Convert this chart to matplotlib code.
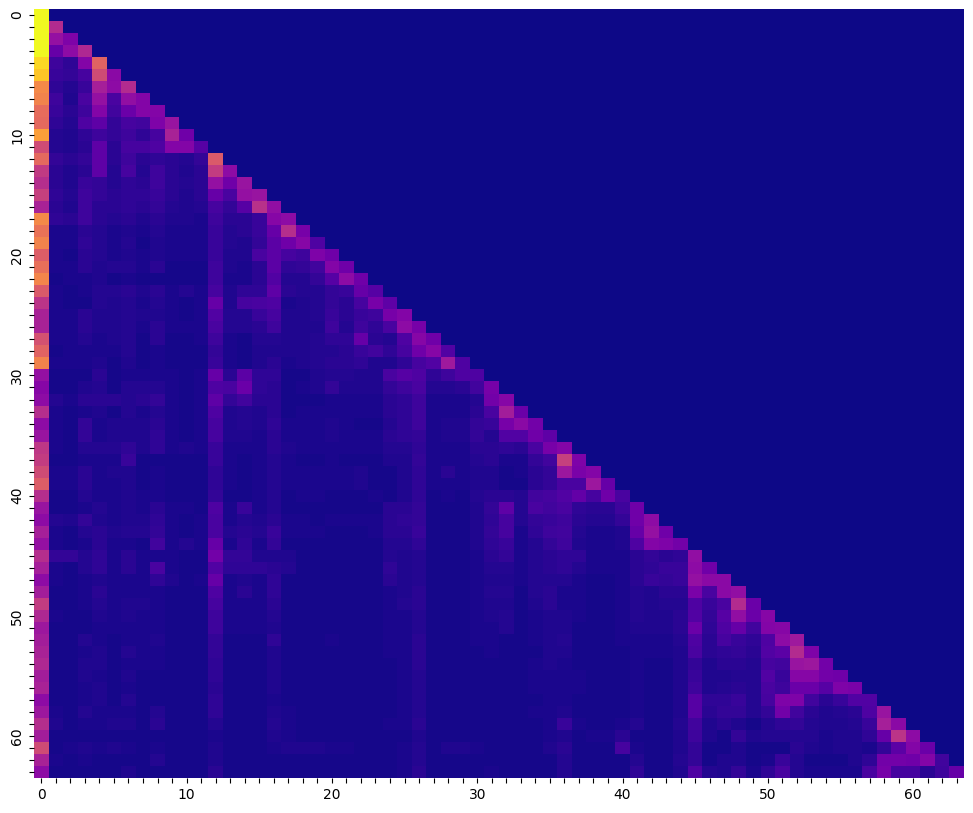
import numpy as np
import matplotlib
matplotlib.use("Agg")
import matplotlib.pyplot as plt
import seaborn as sns

# attention values, in percent of the top colour
row00 = [100]
row01 = [100, 41]
row02 = [100, 32, 26]
row03 = [100, 20, 30, 40]
row04 = [92, 10, 7, 27, 60]
row05 = [88, 9, 8, 12, 52, 29]
row06 = [72, 7, 5, 9, 37, 30, 41]
row07 = [70, 10, 4, 13, 32, 13, 31, 27]
row08 = [63, 9, 6, 10, 27, 11, 21, 27, 27]
row09 = [62, 7, 5, 14, 18, 8, 12, 11, 26, 33]
row10 = [78, 5, 4, 7, 10, 8, 10, 7, 12, 38, 22]
row11 = [52, 5, 4, 6, 18, 6, 12, 12, 14, 27, 27, 16]
row12 = [62, 8, 6, 8, 18, 6, 10, 6, 7, 6, 5, 8, 57]
row13 = [46, 6, 4, 6, 18, 5, 12, 5, 10, 6, 4, 6, 47, 30]
row14 = [42, 6, 4, 9, 8, 5, 7, 6, 10, 6, 5, 6, 32, 22, 33]
row15 = [48, 7, 5, 10, 8, 6, 7, 7, 9, 6, 4, 6, 20, 13, 32, 33]
row16 = [38, 6, 4, 10, 6, 6, 7, 6, 8, 5, 4, 5, 12, 8, 16, 43, 31]
row17 = [72, 7, 6, 10, 6, 5, 6, 4, 6, 4, 4, 3, 10, 6, 6, 9, 28, 30]
row18 = [65, 3, 3, 6, 5, 3, 4, 3, 5, 3, 3, 3, 9, 5, 6, 9, 20, 42, 24]
row19 = [70, 3, 3, 7, 5, 3, 5, 2, 4, 3, 3, 3, 9, 5, 4, 8, 17, 22, 28, 14]
row20 = [58, 3, 2, 6, 5, 3, 4, 3, 4, 3, 3, 3, 9, 4, 4, 13, 17, 12, 10, 26, 22]
row21 = [64, 3, 3, 6, 4, 5, 5, 3, 6, 2, 2, 2, 10, 4, 3, 6, 17, 7, 8, 11, 27, 22]
row22 = [71, 2, 3, 3, 4, 2, 3, 2, 2, 2, 2, 2, 10, 3, 3, 6, 15, 5, 5, 8, 16, 30, 22]
row23 = [57, 3, 2, 3, 5, 5, 6, 4, 6, 3, 5, 3, 12, 4, 7, 7, 18, 6, 5, 5, 8, 9, 20, 16]
row24 = [44, 3, 2, 2, 5, 4, 5, 3, 5, 3, 2, 3, 20, 4, 12, 13, 14, 3, 4, 5, 8, 6, 12, 24, 18]
row25 = [38, 3, 3, 6, 4, 4, 5, 4, 4, 3, 2, 3, 15, 5, 5, 9, 12, 4, 4, 5, 9, 6, 9, 10, 24, 27]
row26 = [38, 3, 3, 6, 4, 4, 5, 3, 6, 3, 3, 3, 13, 5, 5, 6, 10, 4, 4, 4, 10, 5, 10, 7, 13, 30, 24]
row27 = [54, 3, 3, 5, 3, 4, 5, 2, 6, 2, 2, 3, 10, 3, 2, 5, 5, 4, 4, 5, 7, 7, 20, 6, 5, 14, 28, 22]
row28 = [60, 2, 3, 3, 3, 3, 5, 2, 3, 2, 2, 2, 8, 3, 2, 4, 4, 4, 4, 5, 5, 6, 9, 11, 7, 12, 22, 28, 15]
row29 = [70, 3, 3, 3, 4, 2, 4, 2, 3, 2, 2, 1, 9, 3, 2, 4, 6, 3, 4, 5, 6, 6, 7, 4, 4, 7, 12, 15, 35, 14]
row30 = [32, 2, 1, 1, 6, 2, 3, 3, 3, 3, 1, 3, 20, 6, 17, 7, 7, 2, 2, 4, 5, 5, 4, 4, 13, 16, 14, 7, 10, 14, 14]
row31 = [28, 2, 1, 4, 5, 2, 5, 5, 5, 3, 1, 3, 14, 13, 21, 7, 6, 2, 3, 4, 8, 4, 4, 4, 8, 10, 13, 5, 5, 6, 11, 24]
row32 = [30, 5, 3, 6, 6, 6, 5, 6, 8, 3, 1, 3, 18, 8, 11, 6, 6, 2, 1, 2, 3, 3, 3, 3, 6, 7, 10, 3, 3, 3, 5, 23, 28]
row33 = [42, 3, 1, 3, 4, 2, 5, 3, 5, 3, 1, 3, 14, 4, 5, 4, 6, 2, 3, 3, 3, 3, 3, 3, 6, 7, 10, 3, 3, 3, 6, 13, 36, 21]
row34 = [30, 3, 2, 8, 3, 4, 4, 4, 6, 3, 2, 3, 12, 4, 5, 4, 7, 3, 3, 3, 4, 3, 2, 1, 5, 7, 10, 3, 4, 4, 8, 9, 24, 29, 23]
row35 = [33, 3, 2, 8, 3, 4, 4, 4, 7, 3, 2, 3, 12, 4, 4, 3, 6, 3, 3, 3, 4, 3, 3, 3, 6, 7, 8, 3, 4, 4, 8, 5, 15, 15, 22, 18]
row36 = [45, 3, 2, 5, 5, 5, 7, 4, 7, 3, 4, 3, 9, 3, 3, 3, 6, 4, 3, 3, 3, 3, 3, 3, 5, 5, 7, 3, 3, 3, 6, 6, 7, 6, 13, 24, 27]
row37 = [47, 2, 1, 3, 3, 3, 9, 2, 2, 2, 2, 2, 9, 3, 1, 3, 5, 3, 2, 2, 3, 2, 2, 1, 4, 4, 8, 3, 3, 3, 5, 6, 3, 3, 8, 11, 48, 26]
row38 = [52, 3, 3, 6, 3, 4, 4, 2, 3, 2, 2, 2, 7, 3, 2, 3, 5, 3, 3, 3, 3, 3, 4, 2, 2, 4, 7, 3, 6, 3, 4, 4, 2, 3, 6, 8, 34, 25, 27]
row39 = [58, 3, 3, 6, 3, 3, 4, 2, 3, 2, 2, 2, 7, 3, 1, 3, 5, 3, 3, 3, 3, 3, 4, 2, 2, 4, 7, 3, 3, 3, 4, 4, 2, 2, 6, 8, 13, 13, 34, 20]
row40 = [42, 2, 1, 5, 3, 3, 4, 3, 3, 2, 2, 2, 8, 1, 1, 3, 5, 1, 3, 3, 2, 2, 2, 3, 2, 4, 7, 1, 3, 2, 5, 6, 6, 5, 11, 12, 15, 19, 12, 22, 13]
row41 = [33, 2, 1, 3, 5, 3, 4, 3, 6, 3, 3, 2, 14, 3, 9, 3, 5, 2, 2, 1, 2, 2, 2, 2, 6, 6, 8, 1, 1, 2, 4, 8, 18, 5, 13, 11, 13, 7, 6, 6, 10, 22]
row42 = [30, 5, 4, 8, 4, 3, 4, 4, 7, 3, 2, 3, 13, 3, 5, 4, 6, 3, 3, 2, 3, 3, 3, 3, 6, 7, 8, 2, 2, 2, 4, 7, 12, 5, 8, 9, 10, 6, 5, 5, 8, 22, 30]
row43 = [37, 3, 2, 5, 6, 4, 5, 5, 8, 3, 2, 3, 13, 5, 6, 5, 9, 3, 3, 3, 2, 2, 2, 3, 6, 6, 9, 2, 2, 2, 4, 8, 12, 3, 7, 10, 11, 5, 3, 3, 4, 20, 32, 22]
row44 = [32, 3, 2, 3, 6, 3, 3, 2, 11, 3, 5, 3, 20, 3, 7, 3, 8, 2, 2, 2, 2, 2, 2, 2, 5, 5, 7, 2, 2, 2, 4, 7, 9, 3, 5, 8, 10, 4, 3, 3, 4, 14, 27, 26, 23]
row45 = [42, 8, 8, 5, 7, 3, 6, 3, 3, 3, 2, 2, 23, 8, 8, 4, 4, 4, 2, 2, 2, 2, 2, 2, 5, 4, 5, 2, 2, 2, 3, 6, 8, 3, 5, 6, 7, 7, 3, 3, 3, 6, 8, 6, 7, 31]
row46 = [37, 3, 2, 5, 7, 3, 6, 3, 13, 3, 1, 2, 15, 7, 7, 7, 6, 5, 2, 2, 2, 2, 2, 2, 7, 4, 5, 2, 2, 2, 3, 5, 5, 3, 5, 6, 7, 5, 3, 3, 3, 6, 7, 9, 9, 30, 22]
row47 = [30, 3, 2, 3, 4, 3, 3, 3, 7, 4, 1, 3, 20, 3, 4, 3, 7, 2, 2, 2, 2, 2, 2, 2, 6, 4, 5, 2, 2, 2, 3, 4, 4, 3, 5, 5, 5, 3, 2, 2, 3, 6, 9, 8, 9, 32, 29, 29]
row48 = [36, 2, 2, 3, 6, 3, 3, 3, 3, 2, 2, 2, 14, 3, 6, 3, 7, 2, 2, 2, 2, 2, 2, 2, 3, 4, 6, 2, 2, 2, 3, 5, 5, 2, 5, 6, 3, 3, 2, 2, 3, 5, 4, 6, 6, 25, 13, 29, 31]
row49 = [47, 2, 2, 3, 5, 3, 4, 4, 3, 2, 2, 2, 12, 3, 3, 3, 6, 2, 2, 2, 2, 2, 2, 2, 3, 5, 6, 2, 2, 2, 3, 4, 4, 2, 4, 6, 3, 3, 2, 2, 3, 5, 4, 5, 5, 14, 9, 13, 41, 21]
row50 = [40, 3, 1, 2, 4, 3, 4, 3, 3, 2, 2, 2, 10, 3, 3, 3, 5, 2, 2, 2, 2, 2, 2, 2, 3, 3, 5, 2, 2, 2, 3, 4, 5, 2, 3, 4, 4, 3, 2, 2, 3, 5, 4, 4, 6, 15, 8, 16, 31, 21, 28]
row51 = [34, 2, 1, 2, 3, 3, 3, 3, 3, 2, 2, 2, 10, 3, 3, 3, 4, 2, 2, 2, 2, 2, 2, 2, 3, 3, 5, 2, 2, 2, 3, 3, 5, 2, 3, 4, 4, 2, 2, 2, 3, 4, 4, 4, 6, 21, 7, 14, 20, 11, 27, 28]
row52 = [36, 2, 2, 5, 3, 2, 3, 3, 4, 2, 2, 2, 8, 2, 2, 2, 7, 2, 2, 2, 3, 2, 2, 2, 3, 3, 6, 2, 2, 2, 3, 3, 2, 2, 3, 4, 5, 2, 2, 2, 3, 3, 3, 3, 5, 14, 6, 12, 9, 7, 14, 30, 35]
row53 = [38, 2, 1, 3, 4, 2, 5, 3, 3, 2, 2, 2, 8, 2, 2, 2, 4, 2, 2, 2, 2, 2, 2, 2, 3, 3, 6, 2, 2, 2, 2, 3, 2, 2, 2, 4, 4, 2, 2, 2, 2, 3, 3, 3, 4, 13, 6, 7, 8, 6, 15, 17, 41, 26]
row54 = [40, 2, 1, 4, 4, 2, 3, 3, 3, 2, 2, 2, 7, 2, 1, 2, 4, 2, 2, 2, 2, 2, 2, 2, 2, 3, 6, 2, 2, 2, 2, 2, 2, 2, 3, 4, 3, 2, 2, 2, 2, 3, 2, 2, 4, 8, 4, 6, 6, 5, 12, 11, 33, 34, 23]
row55 = [36, 2, 1, 4, 3, 2, 4, 2, 2, 2, 2, 2, 7, 2, 1, 2, 4, 2, 2, 2, 2, 2, 2, 2, 2, 3, 5, 2, 2, 2, 2, 2, 2, 2, 3, 3, 3, 3, 2, 2, 2, 3, 2, 2, 4, 9, 4, 4, 5, 5, 15, 9, 28, 28, 23, 22]
row56 = [38, 2, 2, 3, 4, 2, 3, 2, 2, 2, 2, 2, 6, 2, 2, 2, 4, 2, 2, 2, 2, 2, 2, 2, 2, 3, 5, 2, 2, 2, 2, 2, 2, 2, 3, 3, 3, 3, 2, 2, 2, 3, 2, 2, 4, 10, 4, 5, 6, 5, 13, 10, 21, 21, 16, 26, 25]
row57 = [30, 2, 2, 3, 4, 2, 5, 2, 2, 2, 2, 2, 7, 2, 2, 2, 3, 2, 1, 1, 2, 2, 2, 2, 2, 3, 5, 2, 2, 2, 2, 2, 2, 2, 2, 3, 3, 2, 2, 2, 2, 3, 2, 2, 4, 16, 7, 7, 9, 5, 12, 26, 26, 11, 6, 9, 15, 15]
row58 = [34, 3, 2, 5, 3, 3, 3, 2, 5, 2, 2, 2, 7, 2, 2, 2, 4, 3, 2, 2, 2, 2, 2, 2, 2, 3, 5, 2, 2, 2, 2, 2, 2, 2, 3, 3, 4, 1, 1, 2, 2, 3, 2, 2, 4, 16, 6, 8, 8, 5, 8, 23, 11, 6, 4, 5, 6, 14, 33]
row59 = [42, 4, 2, 3, 3, 4, 4, 2, 6, 2, 1, 2, 5, 2, 2, 2, 5, 3, 2, 2, 2, 2, 2, 2, 3, 3, 6, 2, 2, 2, 2, 1, 2, 2, 2, 3, 9, 3, 2, 2, 3, 5, 2, 2, 5, 11, 4, 6, 4, 2, 5, 7, 8, 5, 4, 4, 5, 9, 37, 29]
row60 = [36, 2, 2, 2, 2, 2, 2, 2, 2, 2, 2, 2, 3, 2, 2, 2, 4, 3, 2, 2, 2, 2, 2, 2, 2, 2, 4, 2, 2, 2, 2, 2, 1, 2, 2, 3, 4, 2, 3, 3, 6, 2, 2, 2, 4, 10, 4, 2, 8, 4, 5, 5, 5, 5, 3, 4, 4, 7, 20, 44, 30]
row61 = [52, 2, 3, 4, 3, 4, 3, 2, 3, 2, 2, 2, 4, 2, 2, 2, 3, 4, 4, 4, 3, 3, 2, 2, 2, 3, 5, 2, 4, 4, 3, 2, 1, 1, 2, 4, 6, 2, 2, 2, 12, 3, 2, 2, 4, 8, 2, 2, 4, 2, 2, 2, 6, 4, 3, 4, 4, 3, 8, 17, 27, 21]
row62 = [38, 3, 1, 3, 2, 2, 2, 2, 5, 2, 2, 2, 4, 2, 2, 2, 2, 2, 2, 2, 2, 2, 2, 2, 2, 3, 5, 2, 2, 2, 2, 2, 1, 1, 2, 2, 5, 2, 1, 1, 2, 5, 2, 2, 5, 8, 2, 4, 4, 1, 3, 9, 5, 2, 2, 2, 4, 7, 23, 23, 22, 27, 11]
row63 = [30, 2, 2, 2, 2, 2, 4, 2, 2, 2, 2, 2, 6, 2, 2, 2, 2, 2, 2, 2, 2, 2, 2, 2, 2, 3, 6, 2, 2, 2, 2, 3, 2, 2, 2, 2, 5, 2, 1, 1, 2, 7, 2, 2, 4, 14, 5, 4, 8, 3, 7, 13, 5, 3, 3, 3, 3, 13, 24, 12, 12, 6, 10, 20]

rows = [row00, row01, row02, row03, row04, row05, row06, row07,
        row08, row09, row10, row11, row12, row13, row14, row15,
        row16, row17, row18, row19, row20, row21, row22, row23,
        row24, row25, row26, row27, row28, row29, row30, row31,
        row32, row33, row34, row35, row36, row37, row38, row39,
        row40, row41, row42, row43, row44, row45, row46, row47,
        row48, row49, row50, row51, row52, row53, row54, row55,
        row56, row57, row58, row59, row60, row61, row62, row63]

n = len(rows)
vals = np.zeros((n, n))
for i, r in enumerate(rows):
    vals[i, :len(r)] = r

# my readings came out too far apart at the dark end, so pull the low ones in
low_read = [0, 1, 2, 3, 5, 10, 100]
low_true = [0, 1.3, 1.5, 2.2, 3.8, 9, 100]
vals = np.interp(vals, low_read, low_true)

fig = plt.figure(figsize=(9.73, 8.13), dpi=100)
ax = fig.add_axes([34 / 973, 1 - 778 / 813, 930 / 973, 769 / 813])

sns.heatmap(vals, cmap="plasma", vmin=0, vmax=100, cbar=False, ax=ax)

labels = [str(i) if i % 10 == 0 else "" for i in range(n)]
ax.set_xticks(np.arange(n) + 0.5)
ax.set_xticklabels(labels, rotation=0)
ax.set_yticks(np.arange(n) + 0.5)
ax.set_yticklabels(labels, rotation=90, va="center")

plt.savefig("out.png", dpi=100)
